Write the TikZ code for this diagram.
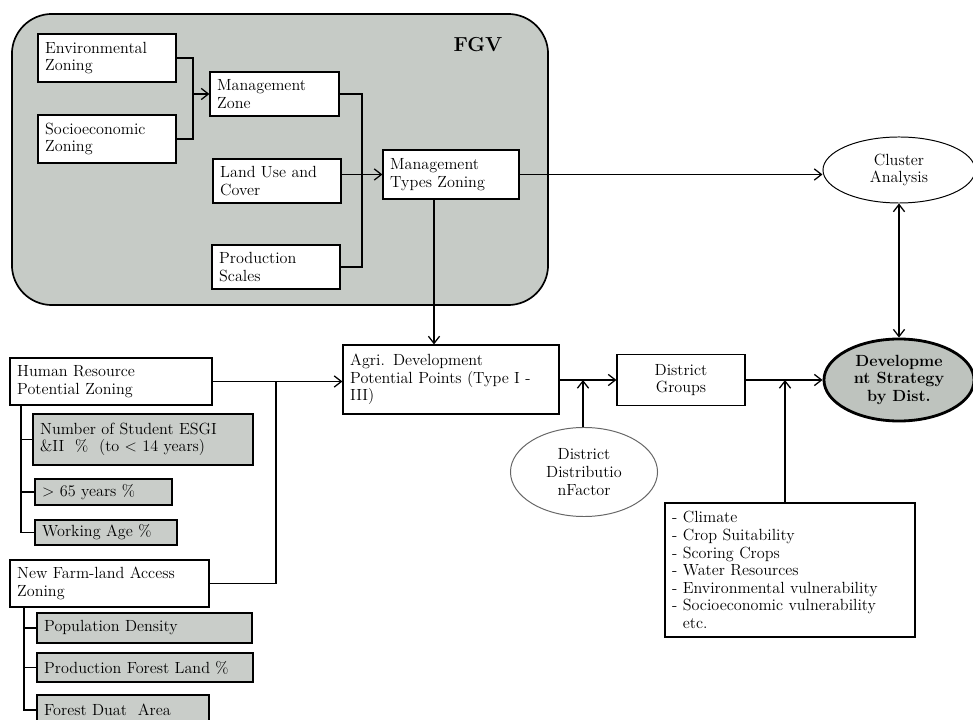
\documentclass[tikz,border=0pt]{standalone}
\usepackage{fontspec}
\usetikzlibrary{positioning, shapes.geometric, calc, arrows.meta}
\definecolor{fgvgray}{RGB}{198,203,198}
\definecolor{itemgray}{RGB}{201,205,201}
\definecolor{stratgray}{RGB}{190,195,190}
\tikzset{
	zonebox/.style={draw, fill=white, line width=0.8pt, align=left, inner xsep=0.18cm,
		font=\fontsize{11.5}{12.5}\selectfont}
}
\tikzset{
	itembox/.style={zonebox, fill=itemgray}
}
\tikzset{
	bubble/.style={draw, ellipse, fill=white, inner sep=0pt, align=center, line width=0.7pt,
		font=\fontsize{11.5}{12.5}\selectfont}
}
\tikzset{
	link/.style={line width=0.9pt, >={Straight Barb[length=1.8mm,width=2.8mm]}}
}

\begin{document}
\begin{tikzpicture}[x=0.025cm, y=-0.025cm]
      \useasboundingbox (0,0) rectangle (973,720);
      % FGV frame
      \node[draw, fill=fgvgray, line width=1.2pt, rounded corners=1cm,
        minimum width=13.4cm, minimum height=7.275cm] (fgv) at (280,159.5) {};
      \node[font=\Large\bfseries] (fgvlabel) at (478,45) {FGV};
      \node[zonebox, text width=3.09cm, minimum height=1.2cm] (envzone) at (107,58) {Environmental\\Zoning};
      \node[zonebox, text width=3.09cm, minimum height=1.2cm] (sociozone) at (107,139) {Socioeconomic\\Zoning};
      \node[zonebox, text width=2.865cm, minimum height=1.1cm] (mgmtzone) at (274.5,94) {Management\\Zone};
      \node[zonebox, text width=2.84cm, minimum height=1.1cm] (landuse) at (277,181) {Land Use and\\Cover};
      \node[zonebox, text width=2.84cm, minimum height=1.1cm] (prodscale) at (276,267) {Production\\Scales};
      \node[zonebox, text width=3.04cm, minimum height=1.225cm] (mgmttypes) at (451,174.5) {Management\\Types Zoning};
      \coordinate (jzone) at (193,94);
      \coordinate (jtypes) at (362,181);
      \draw[link] (envzone.east) -| (jzone) |- (sociozone.east);
      \draw[link, ->] (jzone) -- (mgmtzone.west);
      \draw[link] (mgmtzone.east) -| (jtypes) |- (prodscale.east);
      \draw[link, ->] (landuse.east |- mgmttypes.west) -- (mgmttypes.west);

      % human resources and farm-land access
      \node[zonebox, text width=4.69cm, minimum height=1.175cm] (human) at (111,381.5) {Human Resource\\Potential Zoning};
      \node[itembox, text width=5.14cm, minimum height=1.275cm] (student) at (143,439.5) {Number of Student ESGI\\\&II~~\%~~(to < 14 years)};
      \node[itembox, text width=3.065cm, minimum height=0.65cm] (elderly) at (103.5,492) {> 65 years \%};
      \node[itembox, text width=3.19cm, minimum height=0.625cm] (working) at (106,532.5) {Working Age \%};
      \node[zonebox, text width=4.615cm, minimum height=1.175cm] (farmland) at (109.5,583.5) {New Farm-land Access\\Zoning};
      \node[itembox, text width=5.015cm, minimum height=0.75cm] (popdens) at (144.5,628) {Population Density};
      \node[itembox, text width=5.04cm, minimum height=0.725cm] (forestland) at (145,667.5) {Production Forest Land \%};
      \node[itembox, text width=3.94cm, minimum height=0.75cm] (forestarea) at (123,710) {Forest Duat~ Area};
      \coordinate (humanrail) at (21,0);
      \coordinate (farmrail) at (24,0);
      \draw[link] (human.south -| humanrail) |- (working.west);
      \draw[link] (human.south -| humanrail) |- (student.west);
      \draw[link] (human.south -| humanrail) |- (elderly.west);
      \draw[link] (farmland.south -| farmrail) |- (forestarea.west);
      \draw[link] (farmland.south -| farmrail) |- (popdens.west);
      \draw[link] (farmland.south -| farmrail) |- (forestland.west);

      % development chain
      \node[zonebox, text width=5.04cm, minimum height=1.725cm] (agri) at (451,379.5) {Agri. Development\\Potential Points (Type I -\\III)};
      \node[zonebox, align=center, minimum width=3.2cm, minimum height=1.275cm] (groups) at (681,380) {District\\Groups};
      \node[bubble, minimum width=3.8cm, minimum height=1.65cm] (cluster) at (899,170) {Cluster\\Analysis};
      \node[bubble, fill=stratgray, line width=2pt, font=\fontsize{11.5}{12.5}\selectfont\bfseries,
        minimum width=3.75cm, minimum height=2.05cm] (strategy) at (899,380) {Developme\\nt Strategy\\by Dist.};
      \node[bubble, draw=black!60, minimum width=3.675cm, minimum height=2.225cm] (distfactor) at (584,472) {District\\Distributio\\nFactor};
      \node[zonebox, text width=5.89cm, minimum height=3.35cm] (factors) at (790,570) {- Climate\\- Crop Suitability\\- Scoring Crops\\- Water Resources\\- Environmental vulnerability\\- Socioeconomic vulnerability\\\phantom{- }etc.};
      \coordinate (jfarm) at (276,381.5);
      \coordinate (jdist) at (583,380);
      \coordinate (jfactors) at (785,380);
      \draw[link, ->] ($(mgmttypes.south)+(-17,0)$) -- ($(agri.north)+(-17,0)$);
      \draw[link, ->] (mgmttypes.east) -- (mgmttypes.east -| cluster.west);
      \draw[link, <->] (cluster.south) -- (strategy.north);
      \draw[link, ->] (human.east) -- (human.east -| agri.west);
      \draw[link] (farmland.east) -| (jfarm);
      \draw[link, ->] (agri.east |- groups.west) -- (groups.west);
      \draw[link, ->] (distfactor.north -| jdist) -- (jdist);
      \draw[link, ->] (groups.east) -- (strategy.west);
      \draw[link, ->] (factors.north -| jfactors) -- (jfactors);
    \end{tikzpicture}
\end{document}
